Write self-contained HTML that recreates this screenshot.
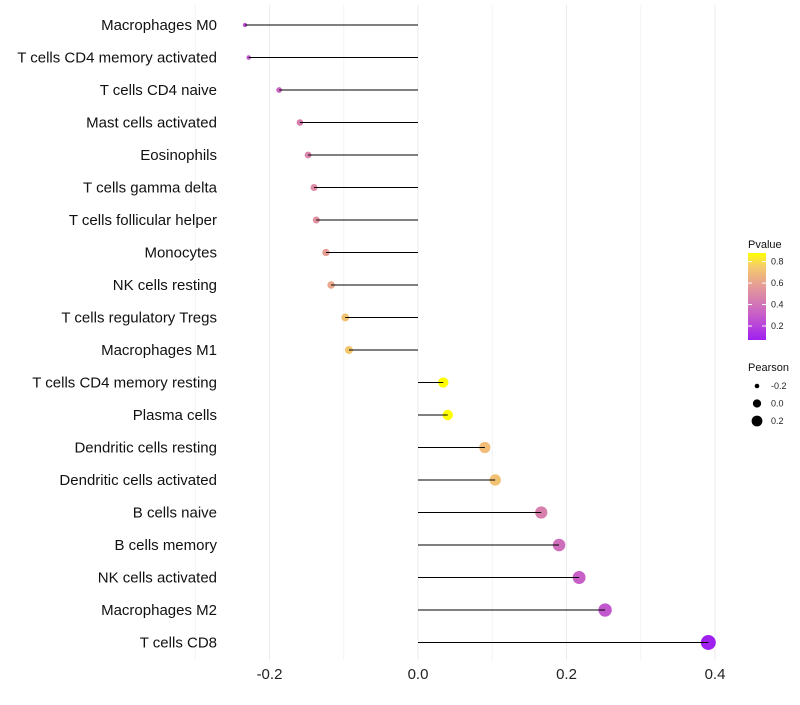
<!DOCTYPE html>
<html><head><meta charset="utf-8"><style>
body{margin:0;background:#fff;font-family:"Liberation Sans",sans-serif;}
</style></head><body>
<svg id="chart" width="800" height="700" xmlns="http://www.w3.org/2000/svg">
<defs><linearGradient id="pg" x1="0" y1="1" x2="0" y2="0">
<stop offset="0" stop-color="#a020f0"/><stop offset="0.3" stop-color="#c860c8"/><stop offset="0.6" stop-color="#e3989a"/><stop offset="0.85" stop-color="#f6cc6a"/><stop offset="1" stop-color="#ffff00"/></linearGradient></defs>
<g id="grid"></g><g id="dots"></g><g id="marks"></g><g id="labels"></g><g id="legend"></g>
</svg>
<script>
const cells=["Macrophages M0","T cells CD4 memory activated","T cells CD4 naive","Mast cells activated","Eosinophils","T cells gamma delta","T cells follicular helper","Monocytes","NK cells resting","T cells regulatory  Tregs ","Macrophages M1","T cells CD4 memory resting","Plasma cells","Dendritic cells resting","Dendritic cells activated","B cells naive","B cells memory","NK cells activated","Macrophages M2","T cells CD8"];
const pearson=[-0.233,-0.228,-0.187,-0.159,-0.148,-0.140,-0.137,-0.124,-0.117,-0.098,-0.093,0.034,0.040,0.090,0.104,0.166,0.190,0.217,0.252,0.391];
const pvalue=[0.25,0.27,0.34,0.44,0.47,0.5,0.52,0.58,0.62,0.72,0.74,0.88,0.88,0.7,0.72,0.45,0.38,0.31,0.28,0.07];
const xTicks=[-0.2,0,0.2,0.4];
const xTickLabels=["-0.2","0.0","0.2","0.4"];
const pTicks=[0.2,0.4,0.6,0.8];
const sizeTicks=[-0.2,0.0,0.2];
const NS="http://www.w3.org/2000/svg";
const X=v=>418+v*742.5, Y=i=>25+i*32.5;
const R=v=>1.07*Math.sqrt(Math.max(1,20.8+72*v));
const stops=[[0,[160,32,240]],[0.3,[200,96,200]],[0.6,[227,152,154]],[0.85,[246,204,106]],[1,[255,255,0]]];
function col(p){let t=(p-0.07)/(0.88-0.07);t=Math.max(0,Math.min(1,t));for(let k=1;k<stops.length;k++){if(t<=stops[k][0]){const a=stops[k-1],b=stops[k],f=(t-a[0])/(b[0]-a[0]);return "rgb("+a[1].map((c,j)=>Math.round(c+(b[1][j]-c)*f)).join(",")+")";}}return "rgb(255,255,0)";}
function mk(tag,attrs,parent,text){const e=document.createElementNS(NS,tag);for(const k in attrs)e.setAttribute(k,attrs[k]);if(text!==undefined)e.textContent=text;document.getElementById(parent).appendChild(e);return e;}
[-0.3,-0.1,0.1,0.3].forEach(v=>{const l=mk("line",{x1:X(v),x2:X(v),y1:5,y2:660,stroke:"#f4f4f4","stroke-width":1},"grid");

});
xTicks.forEach((v,i)=>{const l=mk("line",{x1:X(v),x2:X(v),y1:5,y2:660,stroke:"#ebebeb","stroke-width":1},"grid");


const t=mk("text",{x:X(v),y:679,"text-anchor":"middle","font-size":15,fill:"#222"},"labels",xTickLabels[i]);

});
cells.forEach((c,i)=>{const y=Y(i);
const s=mk("line",{x1:X(0),x2:X(pearson[i]),y1:y,y2:y,stroke:"#000","stroke-width":1},"marks");


const d=mk("circle",{cx:X(pearson[i]),cy:y,r:R(pearson[i]),fill:col(pvalue[i])},"dots");


const t=mk("text",{x:217,y:y+5,"text-anchor":"end","font-size":15,fill:"#111"},"labels",c);

});
let e=mk("text",{x:748,y:248,"font-size":11,fill:"#111"},"legend","Pvalue");


e=mk("rect",{x:748,y:253,width:18,height:87,fill:"url(#pg)"},"legend");


pTicks.forEach(p=>{const y=340-(p-0.07)/(0.88-0.07)*87;
const t=mk("text",{x:771,y:y+3,"font-size":9,fill:"#222"},"legend",p.toFixed(1));


mk("line",{x1:748,x2:752,y1:y,y2:y,stroke:"#fff"},"legend");mk("line",{x1:762,x2:766,y1:y,y2:y,stroke:"#fff"},"legend");});
e=mk("text",{x:748,y:371,"font-size":11,fill:"#111"},"legend","Pearson");


sizeTicks.forEach((v,i)=>{const y=386+i*17.5;
const c=mk("circle",{cx:757,cy:y,r:R(v)*0.85,fill:"#000"},"legend");


const t=mk("text",{x:771,y:y+3,"font-size":9,fill:"#222"},"legend",v.toFixed(1));

});
</script>
</body></html>
